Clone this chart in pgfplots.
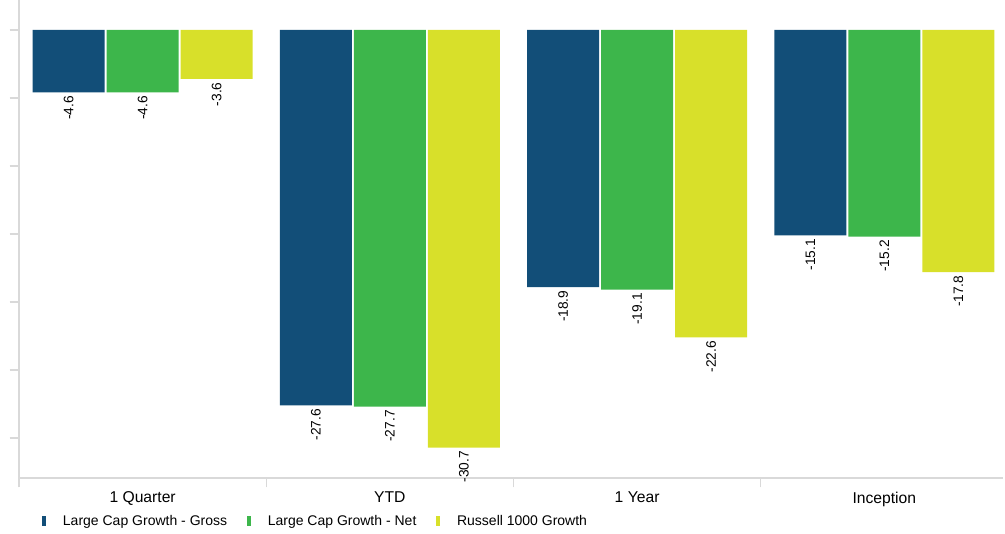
\documentclass[border=0pt]{standalone}
\usepackage{pgfplots}
\pgfplotsset{compat=1.18}
\usepackage{fontspec}
\setmainfont{Liberation Sans}

\definecolor{cgross}{HTML}{124E78}
\definecolor{cnet}{HTML}{3DB64B}
\definecolor{crus}{HTML}{D8E02A}
\definecolor{axgray}{HTML}{D9D9D9}

\begin{document}
\begin{tikzpicture}
\useasboundingbox (-14.25pt,-41.25pt) rectangle (739.5pt,358.5pt);
\begin{axis}[
    at={(0,0)}, anchor=south west,
    width=738pt, height=358.5pt,
    scale only axis,
    ybar=1.5pt,
    bar width=54pt,
    xmin=-0.5, xmax=3.48,
    ymin=-32.94, ymax=2.2,
    axis x line*=bottom,
    axis y line*=left,
    axis line style={axgray, line width=1.3pt},
    every tick/.style={axgray, line width=1.1pt},
    tick align=outside,
    major tick length=7pt,
    xtick={-0.5,0.5,1.5,2.5},
    xticklabels={},
    extra x ticks={0,1,2,3},
    extra x tick labels={1 Quarter,YTD,1 Year,Inception},
    extra x tick style={major tick length=0pt,
        tick label style={font=\fontsize{11.75pt}{13pt}\selectfont, yshift=-7pt}},
    ytick={-30,-25,-20,-15,-10,-5,0},
    yticklabels={},
    clip=false,
    nodes near coords={\pgfmathprintnumber[fixed,precision=1,fixed zerofill,assume math mode=true]{\pgfplotspointmeta}},
    every node near coord/.append style={rotate=90, anchor=east,
        font=\fontsize{10.3pt}{11pt}\selectfont, black, inner sep=2.5pt},
    legend columns=3,
    legend style={draw=none, at={(0.0234,-0.09)}, anchor=west, inner sep=0pt,
        font=\fontsize{10.5pt}{11pt}\selectfont,
        /tikz/every even column/.append style={column sep=13pt}},
    legend image code/.code={\fill[#1] (0pt,-4pt) rectangle (3pt,4pt); \path (13.5pt,0pt);},
]
\addplot[fill=cgross, draw=none] coordinates {(0,-4.6) (1,-27.6) (2,-18.9) (3,-15.1)};
\addplot[fill=cnet, draw=none] coordinates {(0,-4.6) (1,-27.7) (2,-19.1) (3,-15.2)};
\addplot[fill=crus, draw=none] coordinates {(0,-3.6) (1,-30.7) (2,-22.6) (3,-17.8)};
\legend{Large Cap Growth - Gross, Large Cap Growth - Net, Russell 1000 Growth}
\end{axis}
\end{tikzpicture}
\end{document}
